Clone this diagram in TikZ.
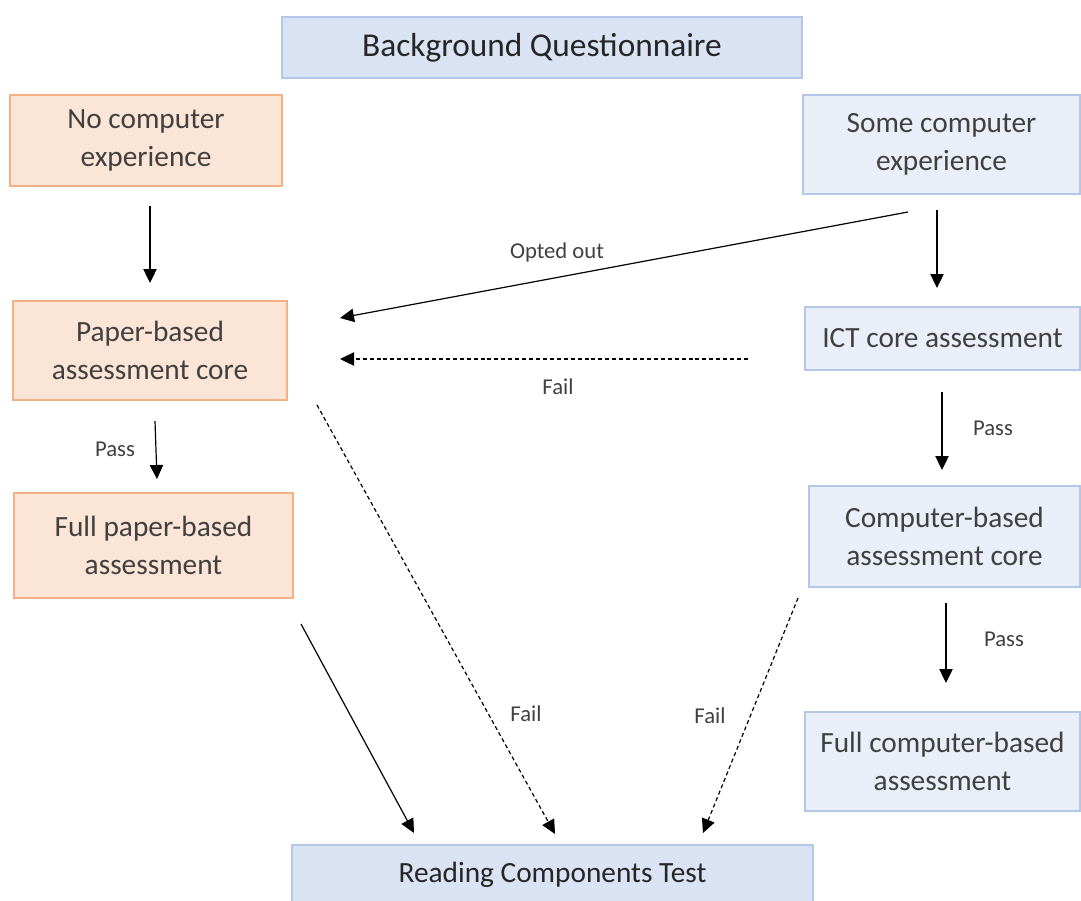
\documentclass[tikz,border=0pt]{standalone}
\usepackage{fontspec}
\setmainfont{Carlito}
\usepackage{xcolor}
\usetikzlibrary{arrows.meta}
\definecolor{orfill}{HTML}{FBE5D6}
\definecolor{ordraw}{HTML}{F4B183}
\definecolor{blfill}{HTML}{DAE3F3}
\definecolor{ltfill}{HTML}{E9EEF8}
\definecolor{bldraw}{HTML}{B4C7E7}
\definecolor{txt}{HTML}{404040}
\tikzset{
  box/.style={draw, line width=0.9pt, inner sep=0pt, align=center, text=txt,
    font=\fontsize{22}{28.5}\selectfont},
  orbox/.style={box, fill=orfill, draw=ordraw},
  blbox/.style={box, fill=ltfill, draw=bldraw},
  headbox/.style={box, fill=blfill, draw=bldraw, text=black!85},
  arr/.style={line width=0.9pt, -{Triangle[length=10.5pt,width=10pt]}},
  lbl/.style={text=txt, font=\fontsize{17}{20}\selectfont}
}
\begin{document}
\begin{tikzpicture}[x=0.75pt,y=-0.75pt]
\clip (0,0) rectangle (1081,900);
\fill[white] (0,0) rectangle (1081,900);
% boxes
\node[headbox, minimum width=390pt, minimum height=45.75pt, font=\fontsize{25}{30}\selectfont] (bq) at (542,47.5) {Background Questionnaire};
\node[orbox, minimum width=204pt, minimum height=68.25pt] (nce) at (146,140.5) {No computer\\experience};
\node[blbox, minimum width=207.75pt, minimum height=74.25pt] (sce) at (941.5,144.5) {Some computer\\experience};
\node[orbox, minimum width=205.5pt, minimum height=74.25pt] (pbc) at (150,350.5) {Paper-based\\assessment core};
\node[blbox, minimum width=206.25pt, minimum height=47.25pt] (ict) at (942.5,338.5) {ICT core assessment};
\node[orbox, minimum width=209.25pt, minimum height=78.75pt] (fpb) at (153.5,545.5) {Full paper-based\\assessment};
\node[blbox, minimum width=203.25pt, minimum height=75.75pt] (cbc) at (944.5,536.5) {Computer-based\\assessment core};
\node[blbox, minimum width=206.25pt, minimum height=74.25pt] (fcb) at (942.5,761.5) {Full computer-based\\assessment};
\node[headbox, minimum width=390.75pt, minimum height=45pt] (rct) at (552.5,875) {Reading Components Test};
% arrow ends
\coordinate (nceout) at (150,206);
\coordinate (pbcin) at (150,283);
\coordinate (optout) at (908,212);
\coordinate (optin) at (340,318);
\coordinate (ictfail) at (748,359);
\coordinate (pbcfail) at (340,359);
\coordinate (sceout) at (937,210);
\coordinate (ictin) at (937,288);
\coordinate (pbcout) at (155,421);
\coordinate (fpbin) at (157,479);
\coordinate (ictout) at (942,392);
\coordinate (cbcin) at (942,470);
\coordinate (cbcout) at (946,603);
\coordinate (fcbin) at (946,683);
\coordinate (fpbout) at (301,624);
\coordinate (rctina) at (414,833);
\coordinate (pbcdown) at (317,405);
\coordinate (rctinb) at (555,834);
\coordinate (cbcdown) at (798,598);
\coordinate (rctinc) at (703,833);
% arrows
\draw[arr] (nceout) -- (pbcin);
\draw[arr] (optout) -- (optin);
\draw[arr, dashed, dash pattern=on 3pt off 2.2pt] (ictfail) -- (pbcfail);
\draw[arr] (sceout) -- (ictin);
\draw[arr] (pbcout) -- (fpbin);
\draw[arr] (ictout) -- (cbcin);
\draw[arr] (cbcout) -- (fcbin);
\draw[arr] (fpbout) -- (rctina);
\draw[arr, dashed, dash pattern=on 3pt off 2.2pt] (pbcdown) -- (rctinb);
\draw[arr, dashed, dash pattern=on 3pt off 2.2pt] (cbcdown) -- (rctinc);
% labels
\node[lbl] (lopt) at (557,252) {Opted out};
\node[lbl] (lfaila) at (558,387) {Fail};
\node[lbl] (lpassa) at (115,449) {Pass};
\node[lbl] (lpassb) at (993,428) {Pass};
\node[lbl] (lpassc) at (1004,639) {Pass};
\node[lbl] (lfailb) at (526,714) {Fail};
\node[lbl] (lfailc) at (710,716) {Fail};
\end{tikzpicture}
\end{document}
